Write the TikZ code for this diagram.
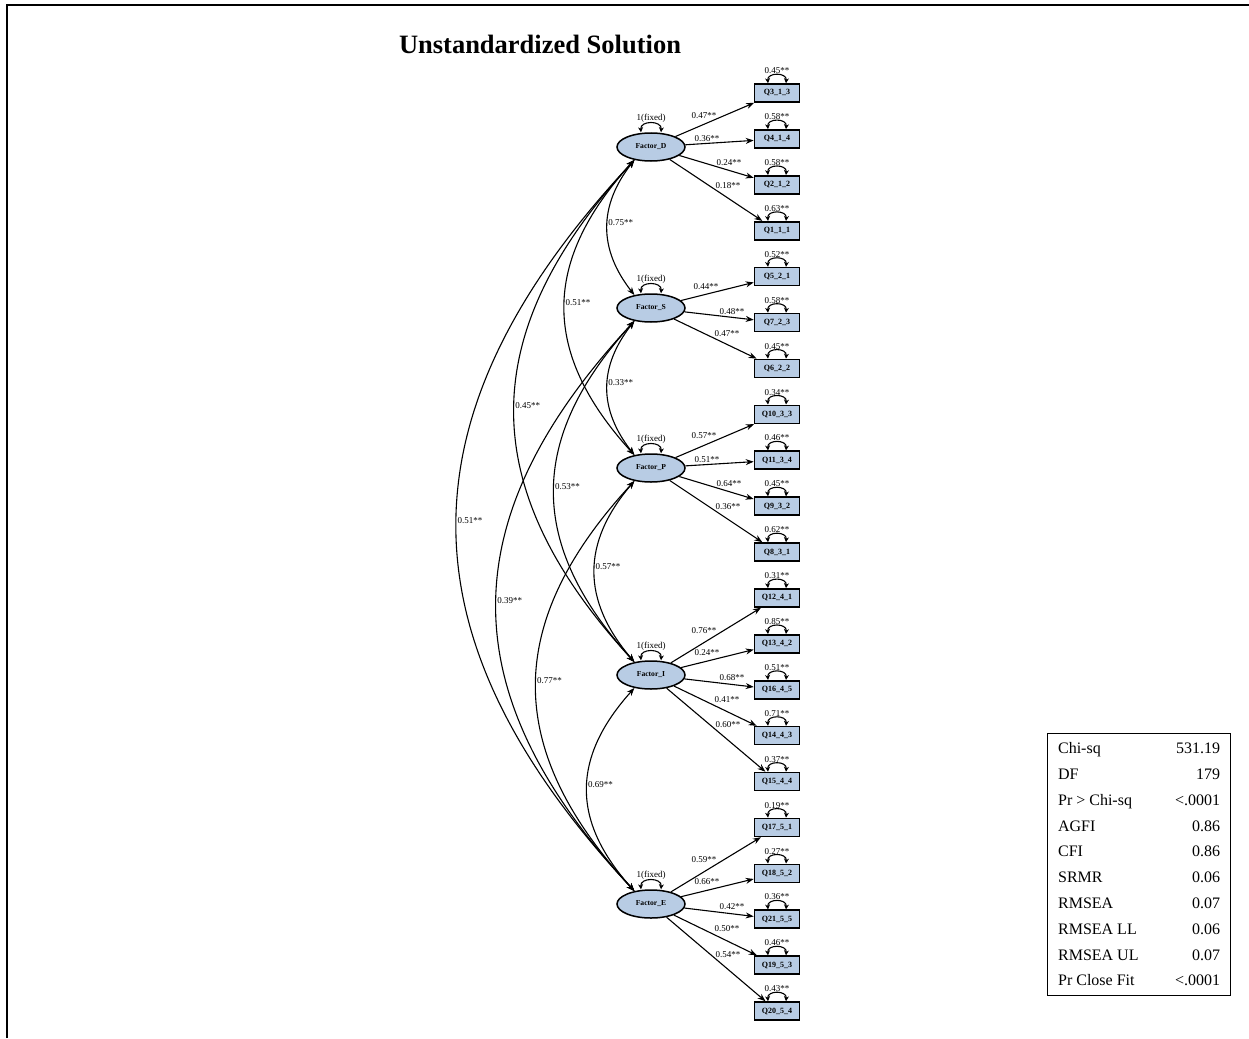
\documentclass[tikz,border=0pt]{standalone}
\usepackage{fontspec}
\setmainfont{Liberation Serif}
\usetikzlibrary{arrows.meta,shapes.geometric}
\definecolor{semfill}{RGB}{184,204,228}
\begin{document}
\begin{tikzpicture}[x=1pt,y=-1pt,
  lat/.style={ellipse, draw, line width=1.5pt, fill=semfill, minimum width=68pt, minimum height=28pt, inner sep=0pt, font=\fontsize{7.6}{8}\selectfont\bfseries},
  obs/.style={rectangle, draw, line width=1.6pt, fill=semfill, minimum width=45pt, minimum height=18pt, inner sep=0pt, font=\fontsize{8}{9}\selectfont\bfseries},
  lbl/.style={font=\fontsize{9}{10}\selectfont, inner sep=0.5pt},
  load/.style={line width=1.1pt, -{Stealth[length=8pt,width=6pt]}},
  cov/.style={line width=1.1pt, {Stealth[length=8pt,width=6pt]}-{Stealth[length=8pt,width=6pt]}},
  vloop/.style={line width=1.1pt, {Stealth[length=5pt,width=5pt]}-{Stealth[length=5pt,width=5pt]}},
]
\useasboundingbox (0,0) rectangle (1249,1038);
\draw[line width=2pt] (7,1038) -- (7,5) -- (1249,5);
\node[font=\fontsize{26.5}{30}\selectfont\bfseries] (title) at (540,44) {Unstandardized Solution};

% latent factors
\node[lat] (D) at (651,147) {Factor\_D};
\node[lat] (S) at (651,308) {Factor\_S};
\node[lat] (P) at (651,468) {Factor\_P};
\node[lat] (I) at (651,675) {Factor\_I};
\node[lat] (E) at (651,904) {Factor\_E};
\foreach \f in {D,S,P,I,E} {
  \draw[vloop] ([xshift=-10pt]\f.north) .. controls +(-1,-12) and +(1,-12) .. ([xshift=10pt]\f.north)
    node[lbl, pos=0.5, anchor=south] {1(fixed)};
}

% indicators
\foreach \k/\t/\v in {0/Q3\_1\_3/0.45, 1/Q4\_1\_4/0.58, 2/Q2\_1\_2/0.58, 3/Q1\_1\_1/0.63,
  4/Q5\_2\_1/0.52, 5/Q7\_2\_3/0.58, 6/Q6\_2\_2/0.45,
  7/Q10\_3\_3/0.34, 8/Q11\_3\_4/0.46, 9/Q9\_3\_2/0.45, 10/Q8\_3\_1/0.62,
  11/Q12\_4\_1/0.31, 12/Q13\_4\_2/0.85, 13/Q16\_4\_5/0.51, 14/Q14\_4\_3/0.71, 15/Q15\_4\_4/0.37,
  16/Q17\_5\_1/0.19, 17/Q18\_5\_2/0.27, 18/Q21\_5\_5/0.36, 19/Q19\_5\_3/0.46, 20/Q20\_5\_4/0.43} {
  \node[obs] (q\k) at (777,{93+45.9*\k}) {\t};
  \draw[vloop] ([xshift=-9pt]q\k.north) .. controls +(-1,-11) and +(1,-11) .. ([xshift=9pt]q\k.north)
    node[lbl, pos=0.5, anchor=south] {\v**};
}

% loadings
\foreach \f/\k/\v/\lx/\ly in {D/0/0.47/704/116, D/1/0.36/707/139, D/2/0.24/729/163, D/3/0.18/728/186,
  S/4/0.44/706/287, S/5/0.48/732/312, S/6/0.47/727/334,
  P/7/0.57/704/436, P/8/0.51/707/460, P/9/0.64/729/484, P/10/0.36/728/507,
  I/11/0.76/704/631, I/12/0.24/707/653, I/13/0.68/732/678, I/14/0.41/727/700, I/15/0.60/728/725,
  E/16/0.59/704/860, E/17/0.66/707/882, E/18/0.42/732/907, E/19/0.50/727/929, E/20/0.54/728/955} {
  \draw[load] (\f) -- (q\k) node[lbl] at (\lx,\ly) {\v**};
}

% covariances
\foreach \a/\b/\ca/\cb/\v in {D/S/36/46/0.75, D/P/93/102/0.51, D/I/160/174/0.45, D/E/237/254/0.51,
  S/P/36/46/0.33, S/I/107/118/0.53, S/E/184/198/0.39,
  P/I/53/62/0.57, P/E/131/142/0.77, I/E/63/70/0.69} {
  \draw[cov] (\a.218) .. controls +(-\ca,\cb) and +(-\ca,-\cb) .. (\b.142)
    node[lbl, pos=0.5, anchor=west, yshift=5pt] {\v**};
}

% fit statistics
\node[draw, line width=1.2pt, inner xsep=10.5pt, inner ysep=2pt, anchor=north west, font=\fontsize{16}{25.8}\selectfont] (fit) at (1047,733) {%
\begin{tabular*}{162pt}{@{}l@{\extracolsep{\fill}}r@{}}
Chi-sq & 531.19\\
DF & 179\\
Pr > Chi-sq & <.0001\\
AGFI & 0.86\\
CFI & 0.86\\
SRMR & 0.06\\
RMSEA & 0.07\\
RMSEA LL & 0.06\\
RMSEA UL & 0.07\\
Pr Close Fit & <.0001
\end{tabular*}};
\end{tikzpicture}
\end{document}
